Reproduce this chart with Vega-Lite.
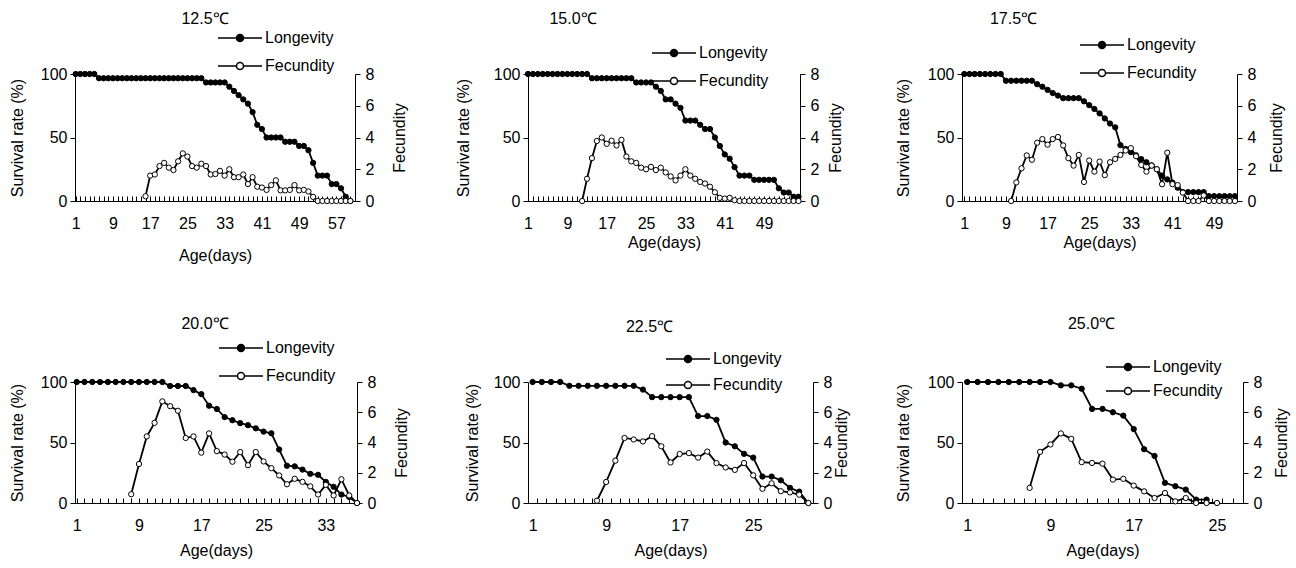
{
"$schema": "https://vega.github.io/schema/vega-lite/v6.json",
"background": "white",
"padding": {"left": 9, "top": 11, "right": 5, "bottom": 5},
"datasets": {
"t125": [
{"day":1,"survival":100,"fecundity":null},{"day":2,"survival":100,"fecundity":null},{"day":3,"survival":100,"fecundity":null},{"day":4,"survival":100,"fecundity":null},{"day":5,"survival":100,"fecundity":null},
{"day":6,"survival":96.67,"fecundity":null},{"day":7,"survival":96.67,"fecundity":null},{"day":8,"survival":96.67,"fecundity":null},{"day":9,"survival":96.67,"fecundity":null},{"day":10,"survival":96.67,"fecundity":null},
{"day":11,"survival":96.67,"fecundity":null},{"day":12,"survival":96.67,"fecundity":null},{"day":13,"survival":96.67,"fecundity":null},{"day":14,"survival":96.67,"fecundity":null},{"day":15,"survival":96.67,"fecundity":null},
{"day":16,"survival":96.67,"fecundity":0.3},{"day":17,"survival":96.67,"fecundity":1.6},{"day":18,"survival":96.67,"fecundity":1.67},{"day":19,"survival":96.67,"fecundity":2.2},{"day":20,"survival":96.67,"fecundity":2.4},
{"day":21,"survival":96.67,"fecundity":2.1},{"day":22,"survival":96.67,"fecundity":1.95},{"day":23,"survival":96.67,"fecundity":2.5},{"day":24,"survival":96.67,"fecundity":3.0},{"day":25,"survival":96.67,"fecundity":2.8},
{"day":26,"survival":96.67,"fecundity":2.2},{"day":27,"survival":96.67,"fecundity":2.1},{"day":28,"survival":96.67,"fecundity":2.35},{"day":29,"survival":93.33,"fecundity":2.2},{"day":30,"survival":93.33,"fecundity":1.67},
{"day":31,"survival":93.33,"fecundity":1.7},{"day":32,"survival":93.33,"fecundity":1.9},{"day":33,"survival":93.33,"fecundity":1.6},{"day":34,"survival":90,"fecundity":2.0},{"day":35,"survival":86.67,"fecundity":1.5},
{"day":36,"survival":83.33,"fecundity":1.5},{"day":37,"survival":80,"fecundity":1.67},{"day":38,"survival":76.67,"fecundity":1.07},{"day":39,"survival":70,"fecundity":1.5},{"day":40,"survival":60,"fecundity":0.9},
{"day":41,"survival":56.67,"fecundity":0.85},{"day":42,"survival":50,"fecundity":0.7},{"day":43,"survival":50,"fecundity":1.0},{"day":44,"survival":50,"fecundity":1.3},{"day":45,"survival":50,"fecundity":0.67},
{"day":46,"survival":46.67,"fecundity":0.67},{"day":47,"survival":46.67,"fecundity":0.7},{"day":48,"survival":46.67,"fecundity":1.0},{"day":49,"survival":43.33,"fecundity":0.67},{"day":50,"survival":43.33,"fecundity":0.7},
{"day":51,"survival":40,"fecundity":0.6},{"day":52,"survival":30,"fecundity":0.26},{"day":53,"survival":20,"fecundity":0},{"day":54,"survival":20,"fecundity":0},{"day":55,"survival":20,"fecundity":0},
{"day":56,"survival":13.33,"fecundity":0},{"day":57,"survival":13.33,"fecundity":0},{"day":58,"survival":10,"fecundity":0},{"day":59,"survival":3.33,"fecundity":0},{"day":60,"survival":0,"fecundity":0}
],
"t150": [
{"day":1,"survival":100,"fecundity":null},{"day":2,"survival":100,"fecundity":null},{"day":3,"survival":100,"fecundity":null},{"day":4,"survival":100,"fecundity":null},{"day":5,"survival":100,"fecundity":null},
{"day":6,"survival":100,"fecundity":null},{"day":7,"survival":100,"fecundity":null},{"day":8,"survival":100,"fecundity":null},{"day":9,"survival":100,"fecundity":null},{"day":10,"survival":100,"fecundity":null},
{"day":11,"survival":100,"fecundity":null},{"day":12,"survival":100,"fecundity":0},{"day":13,"survival":100,"fecundity":1.4},{"day":14,"survival":96.67,"fecundity":2.7},{"day":15,"survival":96.67,"fecundity":3.78},
{"day":16,"survival":96.67,"fecundity":4.0},{"day":17,"survival":96.67,"fecundity":3.6},{"day":18,"survival":96.67,"fecundity":3.8},{"day":19,"survival":96.67,"fecundity":3.5},{"day":20,"survival":96.67,"fecundity":3.85},
{"day":21,"survival":96.67,"fecundity":2.8},{"day":22,"survival":96.67,"fecundity":2.5},{"day":23,"survival":93.33,"fecundity":2.4},{"day":24,"survival":93.33,"fecundity":2.1},{"day":25,"survival":93.33,"fecundity":2.0},
{"day":26,"survival":93.33,"fecundity":2.15},{"day":27,"survival":90,"fecundity":1.95},{"day":28,"survival":86.67,"fecundity":2.1},{"day":29,"survival":80,"fecundity":1.8},{"day":30,"survival":80,"fecundity":1.55},
{"day":31,"survival":76.67,"fecundity":1.3},{"day":32,"survival":73.33,"fecundity":1.6},{"day":33,"survival":63.33,"fecundity":2.0},{"day":34,"survival":63.33,"fecundity":1.6},{"day":35,"survival":63.33,"fecundity":1.4},
{"day":36,"survival":60,"fecundity":1.2},{"day":37,"survival":56.67,"fecundity":1.1},{"day":38,"survival":56.67,"fecundity":0.9},{"day":39,"survival":50,"fecundity":0.55},{"day":40,"survival":43.33,"fecundity":0.2},
{"day":41,"survival":36.67,"fecundity":0.15},{"day":42,"survival":33.33,"fecundity":0.2},{"day":43,"survival":26.67,"fecundity":0.05},{"day":44,"survival":20,"fecundity":0},{"day":45,"survival":20,"fecundity":0},
{"day":46,"survival":20,"fecundity":0},{"day":47,"survival":16.67,"fecundity":0},{"day":48,"survival":16.67,"fecundity":0},{"day":49,"survival":16.67,"fecundity":0},{"day":50,"survival":16.67,"fecundity":0},
{"day":51,"survival":16.67,"fecundity":0},{"day":52,"survival":10,"fecundity":0},{"day":53,"survival":6.67,"fecundity":0},{"day":54,"survival":6.67,"fecundity":0},{"day":55,"survival":3.33,"fecundity":0},
{"day":56,"survival":3.33,"fecundity":0}
],
"t175": [
{"day":1,"survival":100,"fecundity":null},{"day":2,"survival":100,"fecundity":null},{"day":3,"survival":100,"fecundity":null},{"day":4,"survival":100,"fecundity":null},{"day":5,"survival":100,"fecundity":null},
{"day":6,"survival":100,"fecundity":null},{"day":7,"survival":100,"fecundity":null},{"day":8,"survival":100,"fecundity":null},{"day":9,"survival":94.7,"fecundity":null},{"day":10,"survival":94.7,"fecundity":0},
{"day":11,"survival":94.7,"fecundity":1.17},{"day":12,"survival":94.7,"fecundity":2.06},{"day":13,"survival":94.7,"fecundity":2.87},{"day":14,"survival":94.7,"fecundity":2.6},{"day":15,"survival":92,"fecundity":3.67},
{"day":16,"survival":90,"fecundity":3.9},{"day":17,"survival":87.5,"fecundity":3.55},{"day":18,"survival":85,"fecundity":3.9},{"day":19,"survival":83,"fecundity":4.03},{"day":20,"survival":81,"fecundity":3.5},
{"day":21,"survival":81,"fecundity":2.7},{"day":22,"survival":81,"fecundity":2.23},{"day":23,"survival":81,"fecundity":2.9},{"day":24,"survival":78.5,"fecundity":1.2},{"day":25,"survival":75.5,"fecundity":2.55},
{"day":26,"survival":72.5,"fecundity":1.85},{"day":27,"survival":69,"fecundity":2.48},{"day":28,"survival":65,"fecundity":1.63},{"day":29,"survival":61,"fecundity":2.44},{"day":30,"survival":58,"fecundity":2.65},
{"day":31,"survival":44,"fecundity":2.9},{"day":32,"survival":41,"fecundity":3.18},{"day":33,"survival":38.5,"fecundity":3.33},{"day":34,"survival":36,"fecundity":2.82},{"day":35,"survival":33,"fecundity":2.27},
{"day":36,"survival":30.5,"fecundity":1.85},{"day":37,"survival":28,"fecundity":2.23},{"day":38,"survival":25,"fecundity":2.0},{"day":39,"survival":20,"fecundity":1.06},{"day":40,"survival":17,"fecundity":3.04},
{"day":41,"survival":14.5,"fecundity":1.06},{"day":42,"survival":10.5,"fecundity":1.0},{"day":43,"survival":7,"fecundity":0.53},{"day":44,"survival":7,"fecundity":0},{"day":45,"survival":7,"fecundity":0},
{"day":46,"survival":7,"fecundity":0},{"day":47,"survival":7,"fecundity":0.35},{"day":48,"survival":3.8,"fecundity":0},{"day":49,"survival":3.8,"fecundity":0},{"day":50,"survival":3.8,"fecundity":0},
{"day":51,"survival":3.8,"fecundity":0},{"day":52,"survival":3.8,"fecundity":0},{"day":53,"survival":3.8,"fecundity":0}
],
"t200": [
{"day":1,"survival":100,"fecundity":null},{"day":2,"survival":100,"fecundity":null},{"day":3,"survival":100,"fecundity":null},{"day":4,"survival":100,"fecundity":null},{"day":5,"survival":100,"fecundity":null},
{"day":6,"survival":100,"fecundity":null},{"day":7,"survival":100,"fecundity":null},{"day":8,"survival":100,"fecundity":0.58},{"day":9,"survival":100,"fecundity":2.58},{"day":10,"survival":100,"fecundity":4.4},
{"day":11,"survival":100,"fecundity":5.3},{"day":12,"survival":100,"fecundity":6.72},{"day":13,"survival":96.7,"fecundity":6.4},{"day":14,"survival":96.7,"fecundity":6.1},{"day":15,"survival":96.7,"fecundity":4.3},
{"day":16,"survival":93.3,"fecundity":4.4},{"day":17,"survival":90,"fecundity":3.33},{"day":18,"survival":80.4,"fecundity":4.6},{"day":19,"survival":77.7,"fecundity":3.43},{"day":20,"survival":71,"fecundity":3.2},
{"day":21,"survival":68.4,"fecundity":2.73},{"day":22,"survival":66,"fecundity":3.37},{"day":23,"survival":64.3,"fecundity":2.5},{"day":24,"survival":61.7,"fecundity":3.37},{"day":25,"survival":59,"fecundity":2.75},
{"day":26,"survival":57.6,"fecundity":2.3},{"day":27,"survival":44.2,"fecundity":1.82},{"day":28,"survival":30.8,"fecundity":1.24},{"day":29,"survival":30.3,"fecundity":1.6},{"day":30,"survival":27.6,"fecundity":1.4},
{"day":31,"survival":24.1,"fecundity":1.1},{"day":32,"survival":23.3,"fecundity":0.56},{"day":33,"survival":17.4,"fecundity":1.2},{"day":34,"survival":13.4,"fecundity":0.5},{"day":35,"survival":7,"fecundity":1.57},
{"day":36,"survival":5,"fecundity":0.5},{"day":37,"survival":0,"fecundity":0}
],
"t225": [
{"day":1,"survival":100,"fecundity":null},{"day":2,"survival":100,"fecundity":null},{"day":3,"survival":100,"fecundity":null},{"day":4,"survival":100,"fecundity":null},{"day":5,"survival":96.88,"fecundity":null},
{"day":6,"survival":96.88,"fecundity":null},{"day":7,"survival":96.88,"fecundity":null},{"day":8,"survival":96.88,"fecundity":0.15},{"day":9,"survival":96.88,"fecundity":1.39},{"day":10,"survival":96.88,"fecundity":2.8},
{"day":11,"survival":96.88,"fecundity":4.3},{"day":12,"survival":96.88,"fecundity":4.2},{"day":13,"survival":93.75,"fecundity":4.07},{"day":14,"survival":87.5,"fecundity":4.42},{"day":15,"survival":87.5,"fecundity":3.75},
{"day":16,"survival":87.5,"fecundity":2.68},{"day":17,"survival":87.5,"fecundity":3.24},{"day":18,"survival":87.5,"fecundity":3.3},{"day":19,"survival":71.88,"fecundity":3.0},{"day":20,"survival":71.88,"fecundity":3.4},
{"day":21,"survival":68.75,"fecundity":2.64},{"day":22,"survival":50,"fecundity":2.35},{"day":23,"survival":46.88,"fecundity":2.19},{"day":24,"survival":40.63,"fecundity":2.64},{"day":25,"survival":37.5,"fecundity":1.83},
{"day":26,"survival":21.88,"fecundity":0.94},{"day":27,"survival":21.88,"fecundity":1.3},{"day":28,"survival":18.75,"fecundity":0.78},{"day":29,"survival":12.5,"fecundity":0.7},{"day":30,"survival":9.38,"fecundity":0.55},
{"day":31,"survival":0,"fecundity":0}
],
"t250": [
{"day":1,"survival":100,"fecundity":null},{"day":2,"survival":100,"fecundity":null},{"day":3,"survival":100,"fecundity":null},{"day":4,"survival":100,"fecundity":null},{"day":5,"survival":100,"fecundity":null},
{"day":6,"survival":100,"fecundity":null},{"day":7,"survival":100,"fecundity":1.0},{"day":8,"survival":100,"fecundity":3.38},{"day":9,"survival":100,"fecundity":3.87},{"day":10,"survival":97.22,"fecundity":4.6},
{"day":11,"survival":97.22,"fecundity":4.24},{"day":12,"survival":94.44,"fecundity":2.7},{"day":13,"survival":77.78,"fecundity":2.65},{"day":14,"survival":77.78,"fecundity":2.6},{"day":15,"survival":75,"fecundity":1.55},
{"day":16,"survival":72.22,"fecundity":1.6},{"day":17,"survival":61.11,"fecundity":1.15},{"day":18,"survival":44.44,"fecundity":0.77},{"day":19,"survival":38.89,"fecundity":0.33},{"day":20,"survival":16.67,"fecundity":0.66},
{"day":21,"survival":13.89,"fecundity":0.11},{"day":22,"survival":11.11,"fecundity":0.33},{"day":23,"survival":2.78,"fecundity":0},{"day":24,"survival":2.78,"fecundity":0},{"day":25,"survival":null,"fecundity":0}
]
},
"columns": 3,
"spacing": {"row": 53, "column": 45},
"align": "each",
"resolve": {"scale": {"fill": "independent"}},
"concat": [
{
 "data": {"name": "t125"}, "width": 280, "height": 127,
 "title": {"text": "12.5℃", "frame": "group", "dx": -10, "offset": 3},
 "encoding": {"x": {"field": "day", "type": "quantitative", "scale": {"domain": [0.85, 61], "nice": false, "zero": false},
   "axis": {"title": "Age(days)", "values": [1,2,3,4,5,6,7,8,9,10,11,12,13,14,15,16,17,18,19,20,21,22,23,24,25,26,27,28,29,30,31,32,33,34,35,36,37,38,39,40,41,42,43,44,45,46,47,48,49,50,51,52,53,54,55,56,57,58,59,60,61], "labelExpr": "(datum.value - 1) % 8 === 0 ? datum.label : ''", "tickSize": -5, "labelPadding": 19, "titlePadding": 16}}},
 "layer": [
  {"encoding": {"y": {"field": "survival", "type": "quantitative", "scale": {"domain": [0, 100], "nice": false}, "axis": {"orient": "left", "values": [0, 50, 100], "title": "Survival rate (%)", "tickSize": 5, "labelPadding": 3, "titlePadding": 15}}},
   "layer": [
    {"mark": {"type": "line", "color": "black", "strokeWidth": 1.8}},
    {"mark": {"type": "point", "filled": true, "size": 28, "stroke": "black", "strokeWidth": 1, "opacity": 1},
     "encoding": {"fill": {"datum": "Longevity", "type": "nominal", "scale": {"domain": ["Longevity", "Fecundity"], "range": ["black", "white"]},
      "legend": {"orient": "none", "legendX": 157, "legendY": -44, "rowPadding": 12}}}}
   ]},
  {"encoding": {"y": {"field": "fecundity", "type": "quantitative", "scale": {"domain": [0, 8], "nice": false}, "axis": {"orient": "right", "values": [0, 2, 4, 6, 8], "title": "Fecundity", "titleAngle": 270, "titleBaseline": "top", "tickSize": 5, "labelPadding": 5, "titlePadding": 18}}},
   "layer": [
    {"mark": {"type": "line", "color": "black", "strokeWidth": 1.8}},
    {"mark": {"type": "point", "filled": true, "size": 28, "stroke": "black", "strokeWidth": 1, "opacity": 1},
     "encoding": {"fill": {"datum": "Fecundity", "type": "nominal"}}}
   ]}
 ],
 "resolve": {"scale": {"y": "independent"}}
},
{
 "data": {"name": "t150"}, "width": 272, "height": 127,
 "title": {"text": "15.0℃", "frame": "group", "dx": -91, "offset": 18},
 "encoding": {"x": {"field": "day", "type": "quantitative", "scale": {"domain": [1, 56.3], "nice": false, "zero": false},
   "axis": {"title": "Age(days)", "values": [1,2,3,4,5,6,7,8,9,10,11,12,13,14,15,16,17,18,19,20,21,22,23,24,25,26,27,28,29,30,31,32,33,34,35,36,37,38,39,40,41,42,43,44,45,46,47,48,49,50,51,52,53,54,55,56], "labelExpr": "(datum.value - 1) % 8 === 0 ? datum.label : ''", "tickSize": -5, "labelPadding": 19, "titlePadding": 3}}},
 "layer": [
  {"encoding": {"y": {"field": "survival", "type": "quantitative", "scale": {"domain": [0, 100], "nice": false}, "axis": {"orient": "left", "values": [0, 50, 100], "title": "Survival rate (%)", "tickSize": 5, "labelPadding": 3, "titlePadding": 22}}},
   "layer": [
    {"mark": {"type": "line", "color": "black", "strokeWidth": 1.8}},
    {"mark": {"type": "point", "filled": true, "size": 28, "stroke": "black", "strokeWidth": 1, "opacity": 1},
     "encoding": {"fill": {"datum": "Longevity", "type": "nominal", "scale": {"domain": ["Longevity", "Fecundity"], "range": ["black", "white"]},
      "legend": {"orient": "none", "legendX": 138, "legendY": -29, "rowPadding": 12}}}}
   ]},
  {"encoding": {"y": {"field": "fecundity", "type": "quantitative", "scale": {"domain": [0, 8], "nice": false}, "axis": {"orient": "right", "values": [0, 2, 4, 6, 8], "title": "Fecundity", "titleAngle": 270, "titleBaseline": "top", "tickSize": 5, "labelPadding": 5, "titlePadding": 9}}},
   "layer": [
    {"mark": {"type": "line", "color": "black", "strokeWidth": 1.8}},
    {"mark": {"type": "point", "filled": true, "size": 28, "stroke": "black", "strokeWidth": 1, "opacity": 1},
     "encoding": {"fill": {"datum": "Fecundity", "type": "nominal"}}}
   ]}
 ],
 "resolve": {"scale": {"y": "independent"}}
},
{
 "data": {"name": "t175"}, "width": 275, "height": 127,
 "title": {"text": "17.5℃", "frame": "group", "dx": -86, "offset": 10},
 "encoding": {"x": {"field": "day", "type": "quantitative", "scale": {"domain": [0.56, 53.4], "nice": false, "zero": false},
   "axis": {"title": "Age(days)", "values": [1,2,3,4,5,6,7,8,9,10,11,12,13,14,15,16,17,18,19,20,21,22,23,24,25,26,27,28,29,30,31,32,33,34,35,36,37,38,39,40,41,42,43,44,45,46,47,48,49,50,51,52,53], "labelExpr": "(datum.value - 1) % 8 === 0 ? datum.label : ''", "tickSize": -5, "labelPadding": 19, "titlePadding": 3}}},
 "layer": [
  {"encoding": {"y": {"field": "survival", "type": "quantitative", "scale": {"domain": [0, 100], "nice": false}, "axis": {"orient": "left", "values": [0, 50, 100], "title": "Survival rate (%)", "tickSize": 5, "labelPadding": 3, "titlePadding": 16}}},
   "layer": [
    {"mark": {"type": "line", "color": "black", "strokeWidth": 1.8}},
    {"mark": {"type": "point", "filled": true, "size": 28, "stroke": "black", "strokeWidth": 1, "opacity": 1},
     "encoding": {"fill": {"datum": "Longevity", "type": "nominal", "scale": {"domain": ["Longevity", "Fecundity"], "range": ["black", "white"]},
      "legend": {"orient": "none", "legendX": 132, "legendY": -37, "rowPadding": 12}}}}
   ]},
  {"encoding": {"y": {"field": "fecundity", "type": "quantitative", "scale": {"domain": [0, 8], "nice": false}, "axis": {"orient": "right", "values": [0, 2, 4, 6, 8], "title": "Fecundity", "titleAngle": 270, "titleBaseline": "top", "tickSize": 5, "labelPadding": 5, "titlePadding": 13}}},
   "layer": [
    {"mark": {"type": "line", "color": "black", "strokeWidth": 1.8}},
    {"mark": {"type": "point", "filled": true, "size": 28, "stroke": "black", "strokeWidth": 1, "opacity": 1},
     "encoding": {"fill": {"datum": "Fecundity", "type": "nominal"}}}
   ]}
 ],
 "resolve": {"scale": {"y": "independent"}}
},
{
 "data": {"name": "t200"}, "width": 282, "height": 121,
 "title": {"text": "20.0℃", "frame": "group", "dx": -11, "offset": 8},
 "encoding": {"x": {"field": "day", "type": "quantitative", "scale": {"domain": [0.78, 37], "nice": false, "zero": false},
   "axis": {"title": "Age(days)", "values": [1,2,3,4,5,6,7,8,9,10,11,12,13,14,15,16,17,18,19,20,21,22,23,24,25,26,27,28,29,30,31,32,33,34,35,36,37], "labelExpr": "(datum.value - 1) % 8 === 0 ? datum.label : ''", "tickSize": -5, "labelPadding": 19, "titlePadding": 9}}},
 "layer": [
  {"encoding": {"y": {"field": "survival", "type": "quantitative", "scale": {"domain": [0, 100], "nice": false}, "axis": {"orient": "left", "values": [0, 50, 100], "title": "Survival rate (%)", "tickSize": 5, "labelPadding": 3, "titlePadding": 15}}},
   "layer": [
    {"mark": {"type": "line", "color": "black", "strokeWidth": 1.8}},
    {"mark": {"type": "point", "filled": true, "size": 28, "stroke": "black", "strokeWidth": 1, "opacity": 1},
     "encoding": {"fill": {"datum": "Longevity", "type": "nominal", "scale": {"domain": ["Longevity", "Fecundity"], "range": ["black", "white"]},
      "legend": {"orient": "none", "legendX": 158, "legendY": -42, "rowPadding": 12}}}}
   ]},
  {"encoding": {"y": {"field": "fecundity", "type": "quantitative", "scale": {"domain": [0, 8], "nice": false}, "axis": {"orient": "right", "values": [0, 2, 4, 6, 8], "title": "Fecundity", "titleAngle": 270, "titleBaseline": "top", "tickSize": 5, "labelPadding": 5, "titlePadding": 18}}},
   "layer": [
    {"mark": {"type": "line", "color": "black", "strokeWidth": 1.8}},
    {"mark": {"type": "point", "filled": true, "size": 28, "stroke": "black", "strokeWidth": 1, "opacity": 1},
     "encoding": {"fill": {"datum": "Fecundity", "type": "nominal"}}}
   ]}
 ],
 "resolve": {"scale": {"y": "independent"}}
},
{
 "data": {"name": "t225"}, "width": 285, "height": 121,
 "title": {"text": "22.5℃", "frame": "group", "dx": -21, "offset": 16},
 "encoding": {"x": {"field": "day", "type": "quantitative", "scale": {"domain": [0.5, 31.5], "nice": false, "zero": false},
   "axis": {"title": "Age(days)", "values": [1,2,3,4,5,6,7,8,9,10,11,12,13,14,15,16,17,18,19,20,21,22,23,24,25,26,27,28,29,30,31], "labelExpr": "(datum.value - 1) % 8 === 0 ? datum.label : ''", "tickSize": -5, "tickOffset": -4.6, "labelOffset": 4.6, "labelPadding": 19, "titlePadding": 9}}},
 "layer": [
  {"encoding": {"y": {"field": "survival", "type": "quantitative", "scale": {"domain": [0, 100], "nice": false}, "axis": {"orient": "left", "values": [0, 50, 100], "title": "Survival rate (%)", "tickSize": 5, "labelPadding": 3, "titlePadding": 13}}},
   "layer": [
    {"mark": {"type": "line", "color": "black", "strokeWidth": 1.8}},
    {"mark": {"type": "point", "filled": true, "size": 28, "stroke": "black", "strokeWidth": 1, "opacity": 1},
     "encoding": {"fill": {"datum": "Longevity", "type": "nominal", "scale": {"domain": ["Longevity", "Fecundity"], "range": ["black", "white"]},
      "legend": {"orient": "none", "legendX": 152, "legendY": -31, "rowPadding": 10}}}}
   ]},
  {"encoding": {"y": {"field": "fecundity", "type": "quantitative", "scale": {"domain": [0, 8], "nice": false}, "axis": {"orient": "right", "values": [0, 2, 4, 6, 8], "title": "Fecundity", "titleAngle": 270, "titleBaseline": "top", "tickSize": 5, "labelPadding": 5, "titlePadding": 2}}},
   "layer": [
    {"mark": {"type": "line", "color": "black", "strokeWidth": 1.8}},
    {"mark": {"type": "point", "filled": true, "size": 28, "stroke": "black", "strokeWidth": 1, "opacity": 1},
     "encoding": {"fill": {"datum": "Fecundity", "type": "nominal"}}}
   ]}
 ],
 "resolve": {"scale": {"y": "independent"}}
},
{
 "data": {"name": "t250"}, "width": 281, "height": 121,
 "title": {"text": "25.0℃", "frame": "group", "dx": -11, "offset": 27},
 "encoding": {"x": {"field": "day", "type": "quantitative", "scale": {"domain": [0.5, 27.5], "nice": false, "zero": false},
   "axis": {"title": "Age(days)", "values": [1,2,3,4,5,6,7,8,9,10,11,12,13,14,15,16,17,18,19,20,21,22,23,24,25,26,27], "labelExpr": "(datum.value - 1) % 8 === 0 ? datum.label : ''", "tickSize": -5, "tickOffset": -5.2, "labelOffset": 5.2, "labelPadding": 19, "titlePadding": 9}}},
 "layer": [
  {"encoding": {"y": {"field": "survival", "type": "quantitative", "scale": {"domain": [0, 100], "nice": false}, "axis": {"orient": "left", "values": [0, 50, 100], "title": "Survival rate (%)", "tickSize": 5, "labelPadding": 3, "titlePadding": 16}}},
   "layer": [
    {"mark": {"type": "line", "color": "black", "strokeWidth": 1.8}},
    {"mark": {"type": "point", "filled": true, "size": 28, "stroke": "black", "strokeWidth": 1, "opacity": 1},
     "encoding": {"fill": {"datum": "Longevity", "type": "nominal", "scale": {"domain": ["Longevity", "Fecundity"], "range": ["black", "white"]},
      "legend": {"orient": "none", "legendX": 158, "legendY": -23, "rowPadding": 8}}}}
   ]},
  {"encoding": {"y": {"field": "fecundity", "type": "quantitative", "scale": {"domain": [0, 8], "nice": false}, "axis": {"orient": "right", "values": [0, 2, 4, 6, 8], "title": "Fecundity", "titleAngle": 270, "titleBaseline": "top", "tickSize": 5, "labelPadding": 5, "titlePadding": 12}}},
   "layer": [
    {"mark": {"type": "line", "color": "black", "strokeWidth": 1.8}},
    {"mark": {"type": "point", "filled": true, "size": 28, "stroke": "black", "strokeWidth": 1, "opacity": 1},
     "encoding": {"fill": {"datum": "Fecundity", "type": "nominal"}}}
   ]}
 ],
 "resolve": {"scale": {"y": "independent"}}
}
],
"config": {
 "font": "Liberation Sans",
 "view": {"stroke": null},
 "axis": {"grid": false, "domainColor": "black", "tickColor": "black", "labelColor": "black", "titleColor": "black", "labelFontSize": 16, "titleFontSize": 16, "titleFontWeight": "normal", "labelFlush": false, "labelOverlap": false, "domainWidth": 1, "tickWidth": 1},
 "legend": {"title": null, "direction": "vertical", "padding": 0, "symbolType": "M-5.5,0H-0.875M0.875,0H5.5M0.875,0A0.875,0.875,0,1,1,-0.875,0A0.875,0.875,0,1,1,0.875,0", "symbolSize": 64, "symbolStrokeColor": "black", "symbolStrokeWidth": 1.5, "symbolOpacity": 1, "labelOffset": 17, "labelFontSize": 16, "labelColor": "black"},
 "title": {"fontSize": 16, "fontWeight": "normal", "color": "black"}
}
}
